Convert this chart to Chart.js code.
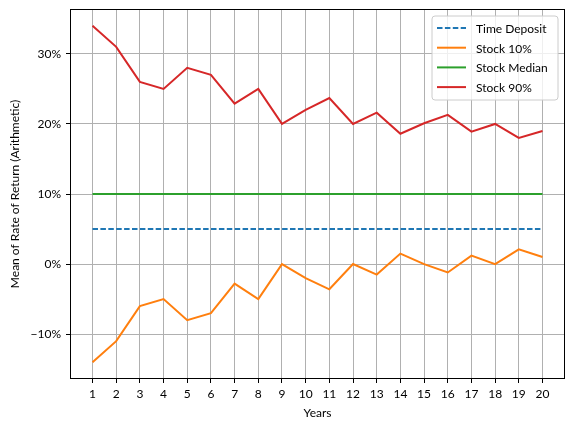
<!DOCTYPE html>
<html>
<head>
<meta charset="utf-8">
<script src="https://cdn.jsdelivr.net/npm/chart.js@4.4.0/dist/chart.umd.min.js"></script>
<style>
html,body{margin:0;padding:0;background:#fff;}
#wrap{width:575px;height:430px;}
</style>
</head>
<body>
<div id="wrap"><canvas id="c" width="575" height="430"></canvas></div>
<script>
const years = [1,2,3,4,5,6,7,8,9,10,11,12,13,14,15,16,17,18,19,20];
const timeDeposit = [5,5,5,5,5,5,5,5,5,5,5,5,5,5,5,5,5,5,5,5];
const stock10 = [-14,-11,-6,-5,-8,-7,-2.8,-5,0,-2,-3.6,0,-1.5,1.5,0,-1.2,1.2,0,2.1,1.0];
const stockMedian = [10,10,10,10,10,10,10,10,10,10,10,10,10,10,10,10,10,10,10,10];
const stock90 = [34,31,26,25,28,27,22.9,25,20,22,23.7,20,21.6,18.6,20.1,21.3,18.9,20,18,19];
const yTicks = [-10,0,10,20,30];
const seriesNames = ['Time Deposit','Stock 10%','Stock Median','Stock 90%'];

const FONT = 'Lato';
const pts = arr => years.map((y,i)=>({x:y,y:arr[i]}));

const framePlugin = {
  id:'frame',
  afterDatasetsDraw(chart){
    const {ctx, chartArea:a} = chart;
    ctx.save();
    ctx.strokeStyle = '#000';
    ctx.lineWidth = 1;
    ctx.strokeRect(Math.round(a.left)+0.5, Math.round(a.top)+0.5, Math.round(a.right-a.left)-1, Math.round(a.bottom-a.top)-1);
    ctx.restore();
  }
};

const legendPlugin = {
  id:'innerLegend',
  afterDraw(chart){
    const {ctx, chartArea:a} = chart;
    const ds = chart.data.datasets;
    const bw = 126, bh = 84;
    const bx = a.right - 7 - bw, by = a.top + 7;
    ctx.save();
    ctx.beginPath();
    const r = 3;
    ctx.moveTo(bx+r,by);
    ctx.arcTo(bx+bw,by,bx+bw,by+bh,r);
    ctx.arcTo(bx+bw,by+bh,bx,by+bh,r);
    ctx.arcTo(bx,by+bh,bx,by,r);
    ctx.arcTo(bx,by,bx+bw,by,r);
    ctx.closePath();
    ctx.fillStyle = 'rgba(255,255,255,0.8)';
    ctx.fill();
    ctx.strokeStyle = '#cccccc';
    ctx.lineWidth = 1;
    ctx.stroke();
    ctx.font = '12px ' + FONT;
    ctx.textBaseline = 'middle';
    ds.forEach((d,i)=>{
      const yy = by + 12 + i*19.7;
      ctx.beginPath();
      ctx.strokeStyle = d.borderColor;
      ctx.lineWidth = 2;
      ctx.setLineDash(d.borderDash || []);
      ctx.moveTo(bx+5, yy);
      ctx.lineTo(bx+34, yy);
      ctx.stroke();
      ctx.setLineDash([]);
      ctx.fillStyle = '#000';
      ctx.fillText(d.label, bx+44, yy+1);
    });
    ctx.restore();
  }
};

new Chart(document.getElementById('c'), {
  type:'line',
  data:{
    datasets:[
      {label:seriesNames[0], data:pts(timeDeposit), borderColor:'#1f77b4', borderDash:[5.5,2.4]},
      {label:seriesNames[1], data:pts(stock10), borderColor:'#ff7f0e'},
      {label:seriesNames[2], data:pts(stockMedian), borderColor:'#2ca02c'},
      {label:seriesNames[3], data:pts(stock90), borderColor:'#d62728'}
    ].map((d,i)=>Object.assign({borderWidth:2, pointRadius:0, tension:0, fill:false, order:4-i}, d))
  },
  options:{
    responsive:false,
    animation:false,
    devicePixelRatio:1,
    layout:{padding:{left:0, top:9, right:10, bottom:0}},
    plugins:{legend:{display:false}, tooltip:{enabled:false}},
    scales:{
      x:{
        type:'linear', min:0.05, max:20.95,
        afterBuildTicks(s){ s.ticks = years.map(v=>({value:v})); },
        afterFit(s){ s.height = 51; s.paddingLeft = 0; s.paddingRight = 0; },
        ticks:{color:'#000', font:{family:FONT, size:12}, padding:4, autoSkip:false, maxRotation:0, callback:v=>String(v)},
        grid:{color:'#b0b0b0', lineWidth:1, tickLength:4, tickColor:'#000', drawTicks:true},
        border:{display:false},
        title:{display:true, text:'Years', color:'#000', font:{family:FONT, size:12}, padding:{top:0,bottom:10}}
      },
      y:{
        type:'linear', min:-16.4, max:36.4,
        afterBuildTicks(s){ s.ticks = yTicks.map(v=>({value:v})); },
        afterFit(s){ s.width = 70; s.paddingTop = 0; s.paddingBottom = 0; },
        ticks:{color:'#000', font:{family:FONT, size:12}, padding:5, callback:v=>(v<0?'\u2212'+Math.abs(v):v)+'%'},
        grid:{color:'#b0b0b0', lineWidth:1, tickLength:4, tickColor:'#000'},
        border:{display:false},
        title:{display:true, text:'Mean of Rate of Return (Arithmetic)', color:'#000', font:{family:FONT, size:12}, padding:{top:8,bottom:0}}
      }
    }
  },
  plugins:[framePlugin, legendPlugin]
});
</script>
</body>
</html>
